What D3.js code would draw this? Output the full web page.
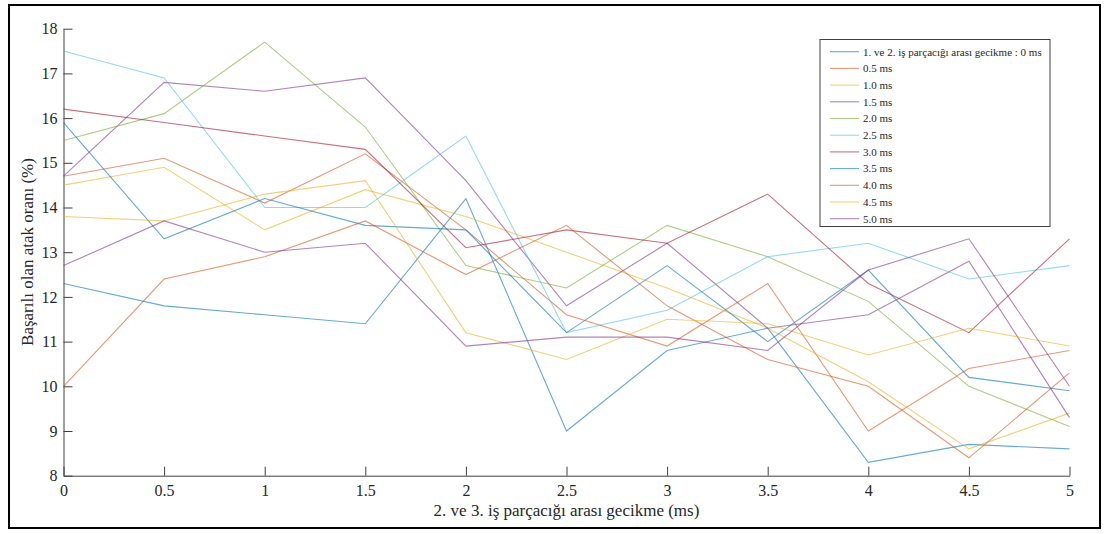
<!DOCTYPE html>
<html>
<head>
    <meta charset="UTF-8">
    <title>Başarılı olan atak oranı</title>
    <style>
        body {
            margin: 0;
            background-color: white;
            font-family: "Liberation Serif", "Times New Roman", serif;
        }
        svg {
            display: block;
        }
        .axis path, .axis line {
            stroke: #404040;
        }
        .axis text {
            fill: #262626;
            font-family: "Liberation Serif", serif;
            font-size: 16px;
        }
    </style>
</head>
<body>
    <svg id="chart" width="1107" height="534"></svg>

    <script src="https://d3js.org/d3.v7.min.js"></script>
    <script>
        // x values: delay between threads 2 and 3 (ms)
        var delays = [0, 0.5, 1, 1.5, 2, 2.5, 3, 3.5, 4, 4.5, 5];

        // legend labels (delay between threads 1 and 2)
        var seriesNames = [
            "1. ve 2. iş parçacığı arası gecikme : 0 ms",
            "0.5 ms", "1.0 ms", "1.5 ms", "2.0 ms", "2.5 ms",
            "3.0 ms", "3.5 ms", "4.0 ms", "4.5 ms", "5.0 ms"
        ];

        // success rate (%) per series
        var s00 = [12.3, 11.8, 11.6, 11.4, 14.2, 9.0, 10.8, 11.3, 8.3, 8.7, 8.6];
        var s05 = [14.7, 15.1, 14.1, 15.2, 13.5, 11.6, 10.9, 12.3, 9.0, 10.4, 10.8];
        var s10 = [14.5, 14.9, 13.5, 14.4, 13.8, 13.0, 12.2, 11.3, 10.1, 8.6, 9.4];
        var s15 = [14.7, 16.8, 16.6, 16.9, 14.6, 11.8, 13.2, 11.3, 11.6, 12.8, 9.3];
        var s20 = [15.5, 16.1, 17.7, 15.8, 12.7, 12.2, 13.6, 12.9, 11.9, 10.0, 9.1];
        var s25 = [17.5, 16.9, 14.0, 14.0, 15.6, 11.2, 11.7, 12.9, 13.2, 12.4, 12.7];
        var s30 = [16.2, 15.9, 15.6, 15.3, 13.1, 13.5, 13.2, 14.3, 12.3, 11.2, 13.3];
        var s35 = [15.9, 13.3, 14.2, 13.6, 13.5, 11.2, 12.7, 11.0, 12.6, 10.2, 9.9];
        var s40 = [10.0, 12.4, 12.9, 13.7, 12.5, 13.6, 11.8, 10.6, 10.0, 8.4, 10.3];
        var s45 = [13.8, 13.7, 14.3, 14.6, 11.2, 10.6, 11.5, 11.4, 10.7, 11.3, 10.9];
        var s50 = [12.7, 13.7, 13.0, 13.2, 10.9, 11.1, 11.1, 10.8, 12.6, 13.3, 10.0];

        var allSeries = [s00, s05, s10, s15, s20, s25, s30, s35, s40, s45, s50];

        // MATLAB default line colours (they repeat after seven)
        var colors = ["#0072BD", "#D95319", "#EDB120", "#7E2F8E", "#77AC30", "#4DBEEE", "#A2142F"];

        var yTicks = [8, 9, 10, 11, 12, 13, 14, 15, 16, 17, 18];
        var xTicks = [0, 0.5, 1, 1.5, 2, 2.5, 3, 3.5, 4, 4.5, 5];

        var svg = d3.select("#chart");

        // outer frame
        svg.append("rect")
            .attr("x", 9).attr("y", 5)
            .attr("width", 1091).attr("height", 523)
            .attr("fill", "white")
            .attr("stroke", "black")
            .attr("stroke-width", 2);

        var plotLeft = 63.5, plotRight = 1069.5, plotTop = 28.7, plotBottom = 475.7;

        var x = d3.scaleLinear().domain([0, 5]).range([plotLeft, plotRight]);
        var y = d3.scaleLinear().domain([8, 18]).range([plotBottom, plotTop]);

        // axes with ticks pointing inward
        var xAxis = d3.axisBottom(x)
            .tickValues(xTicks)
            .tickFormat(function(d) { return String(d); })
            .tickSizeInner(-9)
            .tickSizeOuter(0)
            .tickPadding(9);

        var yAxis = d3.axisLeft(y)
            .tickValues(yTicks)
            .tickFormat(d3.format("d"))
            .tickSizeInner(-9)
            .tickSizeOuter(0)
            .tickPadding(6);

        svg.append("g")
            .attr("class", "axis")
            .attr("transform", "translate(0," + plotBottom + ")")
            .call(xAxis);

        svg.append("g")
            .attr("class", "axis")
            .attr("transform", "translate(" + plotLeft + ",0)")
            .call(yAxis);

        // lines
        var line = d3.line()
            .x(function(d, i) { return x(delays[i]); })
            .y(function(d) { return y(d); });

        var lineGroup = svg.append("g").attr("class", "lines");
        lineGroup.selectAll("path")
            .data(allSeries)
            .enter().append("path")
            .attr("d", line)
            .attr("fill", "none")
            .attr("stroke", function(d, i) { return colors[i % colors.length]; })
            .attr("stroke-opacity", 0.6)
            .attr("stroke-width", 1.1);

        // axis labels
        svg.append("text")
            .attr("x", (plotLeft + plotRight) / 2)
            .attr("y", 516)
            .attr("text-anchor", "middle")
            .attr("font-size", 17)
            .attr("fill", "#262626")
            .text("2. ve 3. iş parçacığı arası gecikme (ms)");

        svg.append("text")
            .attr("transform", "translate(33,252) rotate(-90)")
            .attr("text-anchor", "middle")
            .attr("font-size", 17)
            .attr("fill", "#262626")
            .text("Başarılı olan atak oranı (%)");

        // legend
        var legend = svg.append("g").attr("class", "legend");
        legend.append("rect")
            .attr("x", 820).attr("y", 39.5)
            .attr("width", 230).attr("height", 187)
            .attr("fill", "white")
            .attr("stroke", "#404040")
            .attr("stroke-width", 1);

        var entry = legend.selectAll("g.entry")
            .data(seriesNames)
            .enter().append("g")
            .attr("class", "entry")
            .attr("transform", function(d, i) { return "translate(0," + (51.7 + i * 16.7) + ")"; });

        entry.append("line")
            .attr("x1", 830).attr("x2", 859)
            .attr("y1", 0).attr("y2", 0)
            .attr("stroke", function(d, i) { return colors[i % colors.length]; })
            .attr("stroke-opacity", 0.6)
            .attr("stroke-width", 1.1);

        entry.append("text")
            .attr("x", 863)
            .attr("y", 3.8)
            .attr("font-size", 11)
            .attr("fill", "#262626")
            .text(function(d) { return d; });
    </script>
</body>
</html>
